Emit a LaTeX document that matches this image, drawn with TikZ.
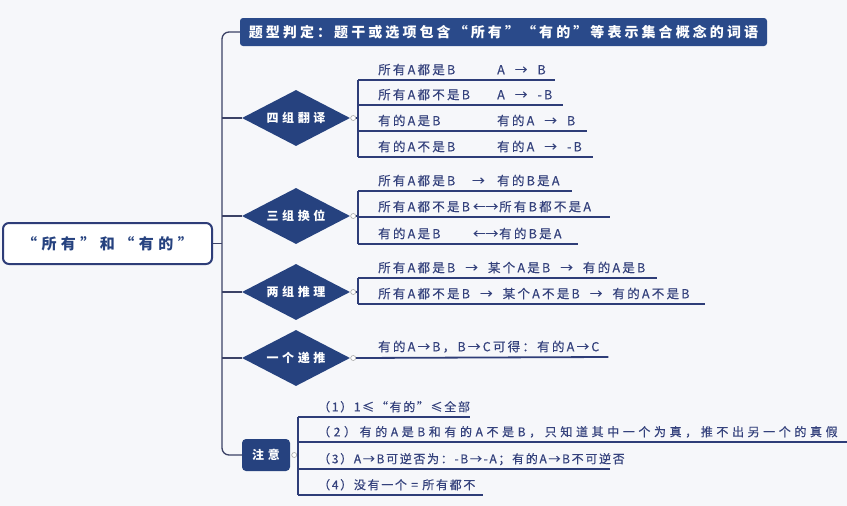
\documentclass[tikz,border=0pt]{standalone}
\usepackage{fontspec}
\setmainfont{Noto Sans CJK SC}
\newfontfamily\lsp{Noto Sans CJK SC}[LetterSpace=18, FakeBold=0.4]
\newfontfamily\arrf{Noto Sans CJK SC}[FakeBold=0.4]
\newfontfamily\lspn{Noto Sans CJK SC}[LetterSpace=14, FakeBold=0.4]
\newfontfamily\lspnw{Noto Sans CJK SC}[LetterSpace=30, FakeBold=0.4]
\newfontfamily\lspb{Noto Sans CJK SC}[LetterSpace=22]
\newfontfamily\lspw{Noto Sans CJK SC}[LetterSpace=30]
\usetikzlibrary{shapes.geometric,calc}
\definecolor{navy}{HTML}{26427F}
\definecolor{bannerc}{HTML}{2A4A8A}
\definecolor{linec}{HTML}{2E3D78}
\definecolor{txtc}{HTML}{34417C}
\definecolor{trunkc}{HTML}{3C4266}
\definecolor{bgc}{HTML}{F6F7FA}
\newcommand{\lf}[2]{\makebox[#1][l]{#2}}
\newcommand{\ar}[1]{{\arrf #1}}
\begin{document}
\begin{tikzpicture}[x=1pt,y=-1pt,
  rootbox/.style={draw=linec, line width=2pt, rounded corners=6pt, fill=white,
    minimum width=209pt, minimum height=41pt, text=navy,
    font=\lspw\fontsize{15}{18}\selectfont\bfseries},
  bannerbox/.style={fill=bannerc, rounded corners=3pt, minimum width=527pt,
    minimum height=28pt, text=white, font=\lspb\fontsize{14}{16}\selectfont\bfseries},
  dia/.style={diamond, aspect=1.93, fill=navy, minimum width=108pt,
    minimum height=56pt, inner sep=0pt, text=white,
    font=\lspw\fontsize{12}{14}\selectfont\bfseries},
  notebox/.style={fill=navy, rounded corners=4pt, minimum width=48pt,
    minimum height=32pt, text=white, font=\lspw\fontsize{12}{14}\selectfont\bfseries},
  conn/.style={circle, draw=gray!70, fill=white, line width=0.6pt,
    minimum size=5pt, inner sep=0pt},
  leaf/.style={anchor=south west, inner xsep=0pt, inner ysep=3.5pt, text=txtc,
    font=\lsp\fontsize{12.5}{14}\selectfont, text depth=2pt, text height=9.5pt},
  noteleaf/.style={leaf, font=\lspn\fontsize{12}{14}\selectfont},
  uline/.style={draw=linec, line width=1.8pt},
  trunk/.style={draw=trunkc, line width=1.3pt}]
\fill[bgc] (0,0) rectangle (847,506);
\useasboundingbox (0,0) rectangle (847,506);

\coordinate (tx) at (222,0);
\coordinate (br) at (358,0);
\coordinate (brn) at (298,0);

\node[rootbox] (root) at (107.5,243.5) {“所有”和“有的”};
\node[bannerbox] (banner) at (503.5,32) {题型判定：题干或选项包含“所有”“有的”等表示集合概念的词语};
\node[dia] (d1) at (296,118) {四组翻译};
\node[dia] (d2) at (296,216) {三组换位};
\node[dia] (d3) at (296,292) {两组推理};
\node[dia] (d4) at (296,358) {一个递推};
\node[notebox] (nt) at (266,455) {注意};

\draw[trunk] (root.east) -- (root.east -| tx);
\draw[trunk, rounded corners=7pt] (banner.west) -| (tx |- root.east) |- (nt.west);
\foreach \d in {d1,d2,d3,d4} \draw[trunk] (tx |- \d.west) -- (\d.west);

\node[conn] (c1) at ([xshift=3pt]d1.east) {};
\node[conn] (c2) at ([xshift=3pt]d2.east) {};
\node[conn] (c3) at ([xshift=3pt]d3.east) {};
\node[conn] (c4) at ([xshift=3pt]d4.east) {};
\node[conn] (c5) at ([xshift=4pt]nt.east) {};

% four translations
\node[leaf] (a1) at (378,80) {\lf{177pt}{\lf{119pt}{所有A都是B}A \ → \ B}};
\node[leaf] (a2) at (378,105) {\lf{185pt}{\lf{119pt}{所有A都不是B}A \ → \ -B}};
\node[leaf] (a3) at (378,131) {\lf{209pt}{\lf{119pt}{有的A是B}有的A \ → \ B}};
\node[leaf] (a4) at (378,157) {\lf{215pt}{\lf{119pt}{有的A不是B}有的A \ → \ -B}};
\draw[uline] (c1.east) -- (c1.east -| br);
\draw[uline] (a1.south -| br) -- (a4.south -| br);
\foreach \n in {a1,a2,a3,a4} \draw[uline] (\n.south -| br) -- (\n.south east);

% three conversions
\node[leaf] (b1) at (378,191) {\lf{194pt}{\lf{94pt}{所有A都是B}\lf{25pt}{\ar{→}}有的B是A}};
\node[leaf] (b2) at (378,217) {\lf{232pt}{\lf{95pt}{所有A都不是B}\lf{26pt}{\ar{←→}}所有B都不是A}};
\node[leaf] (b3) at (378,244) {\lf{200pt}{\lf{95pt}{有的A是B}\lf{26pt}{\ar{←→}}有的B是A}};
\draw[uline] (c2.east) -- (c2.east -| br);
\draw[uline] (b1.south -| br) -- (b3.south -| br);
\foreach \n in {b1,b2,b3} \draw[uline] (\n.south -| br) -- (\n.south east);

% two inferences
\node[leaf] (e1) at (378,278) {\lf{279pt}{所有A都是B \ → \ 某个A是B \ → \ 有的A是B}};
\node[leaf] (e2) at (378,304) {\lf{327pt}{所有A都不是B \ → \ 某个A不是B \ → \ 有的A不是B}};
\draw[uline] (c3.east) -- (c3.east -| br);
\draw[uline] (e1.south -| br) -- (e2.south -| br);
\foreach \n in {e1,e2} \draw[uline] (\n.south -| br) -- (\n.south east);

% one chain
\node[leaf] (f1) at (378,357) {\lf{230pt}{有的A→B，B→C可得：有的A→C}};
\draw[uline] (c4.east) -- (f1.south east);

% notes
\node[noteleaf] (g1) at (318,417) {\lf{152pt}{（1）1≤“有的”≤全部}};
\node[noteleaf] (g2) at (318,442) {\lf{529pt}{\lspnw（2）有的A是B和有的A不是B，只知道其中一个为真，推不出另一个的真假}};
\node[noteleaf] (g3) at (318,469) {\lf{292pt}{（3）A→B可逆否为：-B→-A；有的A→B不可逆否}};
\node[noteleaf] (g4) at (318,495) {\lf{165pt}{（4）没有一个 = 所有都不}};
\draw[uline] (c5.east) -- (c5.east -| brn);
\draw[uline] (g1.south -| brn) -- (g4.south -| brn);
\foreach \n in {g1,g2,g3,g4} \draw[uline] (\n.south -| brn) -- (\n.south east);
\end{tikzpicture}
\end{document}
